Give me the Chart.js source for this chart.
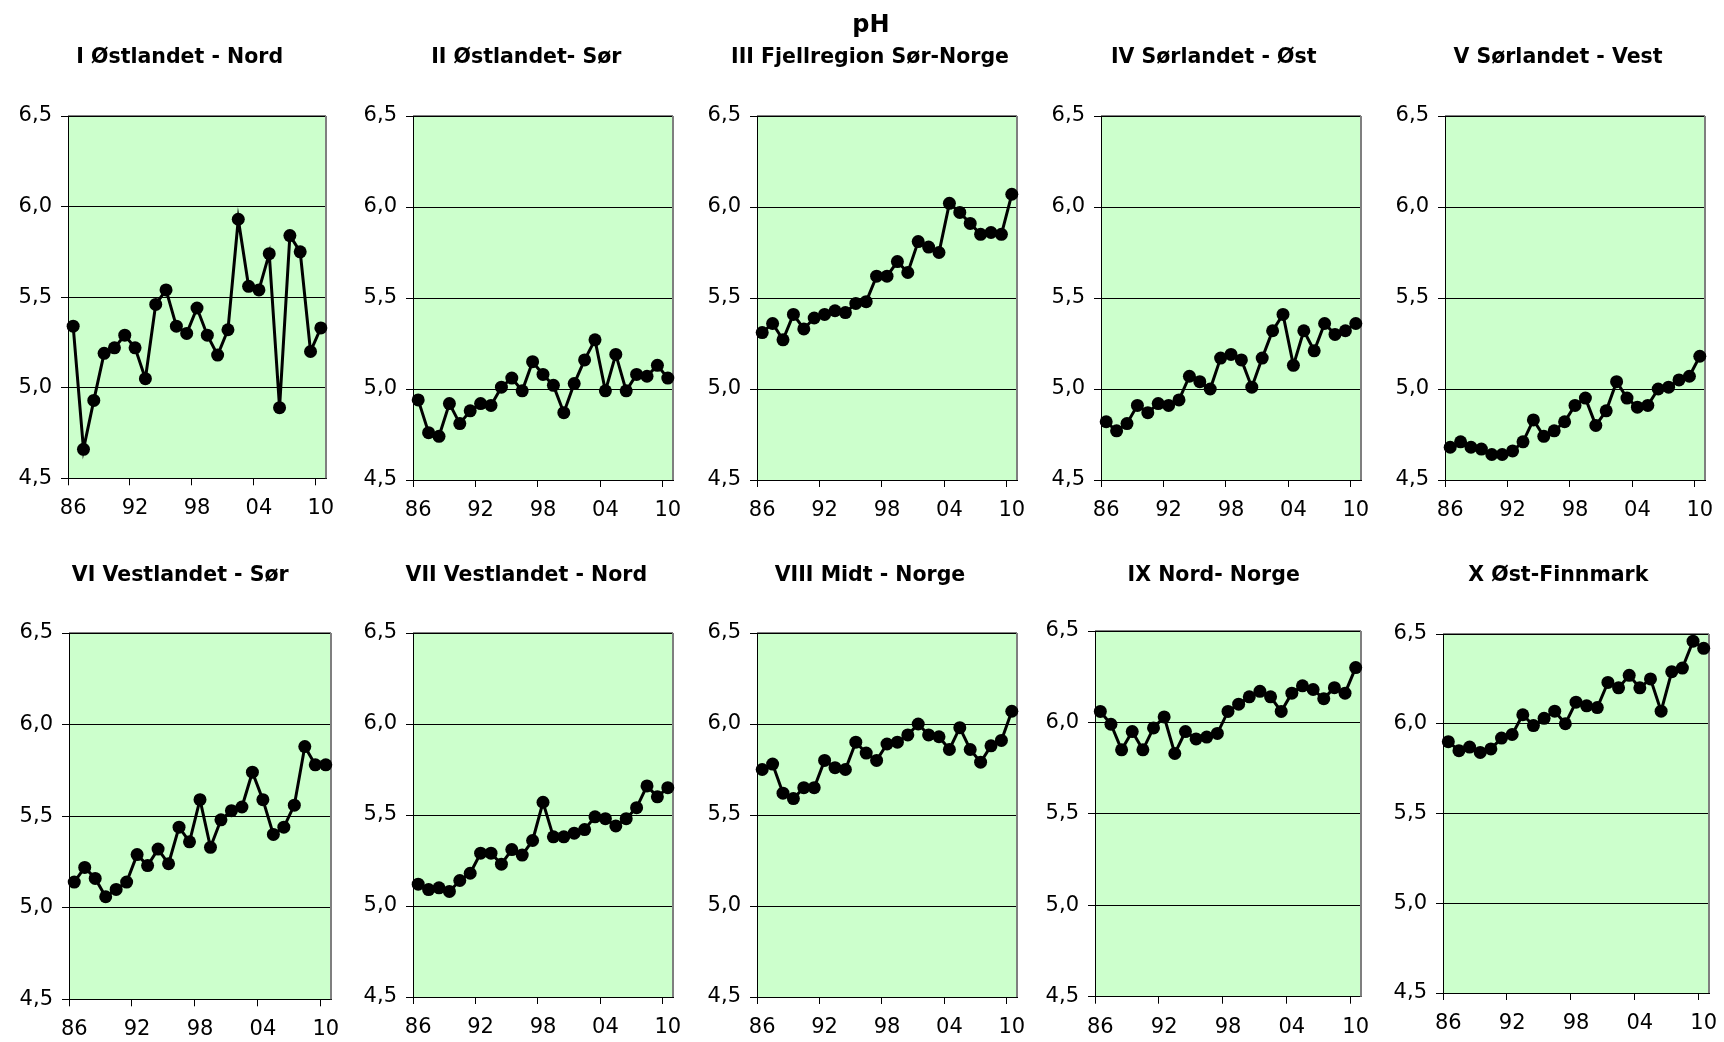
<!DOCTYPE html>
<html>
<head>
<meta charset="utf-8">
<title>pH</title>
<script src="https://cdn.jsdelivr.net/npm/chart.js@4/dist/chart.umd.min.js"></script>
<style>
  body { margin: 0; background: #fff; }
  #wrap { position: relative; width: 1724px; height: 1042px; overflow: hidden; }
  #wrap canvas { position: absolute; }
</style>
</head>
<body>
<div id="wrap"></div>
<script>
const mainTitle = 'pH';
const years = [1986, 1987, 1988, 1989, 1990, 1991, 1992, 1993, 1994, 1995, 1996, 1997, 1998,
  1999, 2000, 2001, 2002, 2003, 2004, 2005, 2006, 2007, 2008, 2009, 2010];
const yearTicks = ['86', '92', '98', '04', '10'];
const phTicks = [4.5, 5.0, 5.5, 6.0, 6.5];

const regions = [
  'I Østlandet - Nord', 'II Østlandet- Sør', 'III Fjellregion Sør-Norge', 'IV Sørlandet - Øst', 'V Sørlandet - Vest',
  'VI Vestlandet - Sør', 'VII Vestlandet - Nord', 'VIII Midt - Norge', 'IX Nord- Norge', 'X Øst-Finnmark'
];

const ph1 = [5.34, 4.66, 4.93, 5.19, 5.22, 5.29, 5.22, 5.05, 5.46, 5.54, 5.34, 5.30, 5.44, 5.29, 5.18, 5.32, 5.93, 5.56, 5.54, 5.74, 4.89, 5.84, 5.75, 5.20, 5.33];
const ph2 = [4.94, 4.76, 4.74, 4.92, 4.81, 4.88, 4.92, 4.91, 5.01, 5.06, 4.99, 5.15, 5.08, 5.02, 4.87, 5.03, 5.16, 5.27, 4.99, 5.19, 4.99, 5.08, 5.07, 5.13, 5.06];
const ph3 = [5.31, 5.36, 5.27, 5.41, 5.33, 5.39, 5.41, 5.43, 5.42, 5.47, 5.48, 5.62, 5.62, 5.70, 5.64, 5.81, 5.78, 5.75, 6.02, 5.97, 5.91, 5.85, 5.86, 5.85, 6.07];
const ph4 = [4.82, 4.77, 4.81, 4.91, 4.87, 4.92, 4.91, 4.94, 5.07, 5.04, 5.00, 5.17, 5.19, 5.16, 5.01, 5.17, 5.32, 5.41, 5.13, 5.32, 5.21, 5.36, 5.30, 5.32, 5.36];
const ph5 = [4.68, 4.71, 4.68, 4.67, 4.64, 4.64, 4.66, 4.71, 4.83, 4.74, 4.77, 4.82, 4.91, 4.95, 4.80, 4.88, 5.04, 4.95, 4.90, 4.91, 5.00, 5.01, 5.05, 5.07, 5.18];
const ph6 = [5.14, 5.22, 5.16, 5.06, 5.10, 5.14, 5.29, 5.23, 5.32, 5.24, 5.44, 5.36, 5.59, 5.33, 5.48, 5.53, 5.55, 5.74, 5.59, 5.40, 5.44, 5.56, 5.88, 5.78, 5.78];
const ph7 = [5.12, 5.09, 5.10, 5.08, 5.14, 5.18, 5.29, 5.29, 5.23, 5.31, 5.28, 5.36, 5.57, 5.38, 5.38, 5.40, 5.42, 5.49, 5.48, 5.44, 5.48, 5.54, 5.66, 5.60, 5.65];
const ph8 = [5.75, 5.78, 5.62, 5.59, 5.65, 5.65, 5.80, 5.76, 5.75, 5.90, 5.84, 5.80, 5.89, 5.90, 5.94, 6.00, 5.94, 5.93, 5.86, 5.98, 5.86, 5.79, 5.88, 5.91, 6.07];
const ph9 = [6.06, 5.99, 5.85, 5.95, 5.85, 5.97, 6.03, 5.83, 5.95, 5.91, 5.92, 5.94, 6.06, 6.10, 6.14, 6.17, 6.14, 6.06, 6.16, 6.20, 6.18, 6.13, 6.19, 6.16, 6.30];
const ph10 = [5.90, 5.85, 5.87, 5.84, 5.86, 5.92, 5.94, 6.05, 5.99, 6.03, 6.07, 6.00, 6.12, 6.10, 6.09, 6.23, 6.20, 6.27, 6.20, 6.25, 6.07, 6.29, 6.31, 6.46, 6.42];
const series = [ph1, ph2, ph3, ph4, ph5, ph6, ph7, ph8, ph9, ph10];

// plot area of each panel on the page: left, top, right, bottom
const boxes = [
  [68.3, 116, 326.7, 478.3], [412.7, 116, 672.7, 480], [757, 116, 1016.7, 480], [1101.3, 116, 1361, 480], [1445, 116, 1704.7, 480],
  [68.7, 632.7, 330.7, 999], [412.7, 632.7, 672.7, 996.7], [757, 632.7, 1016.7, 996.7], [1095.3, 631, 1361, 996.7], [1442.7, 634.3, 1709, 993.3]
];
const titleX = [180, 526, 870, 1214, 1558];
const titleY = [63, 581];

const AXIS_W = 68, PAD_TOP = 116, PAD_RIGHT = 24, AXIS_H = 48;
const FONT = '"DejaVu Sans", "Liberation Sans", sans-serif';

Chart.defaults.font.family = FONT;
Chart.defaults.font.size = 20;
Chart.defaults.color = '#000';

const plotFrame = {
  id: 'plotFrame',
  beforeDraw(chart) {
    const { ctx, chartArea: a } = chart;
    ctx.save();
    ctx.fillStyle = '#ccffcc';
    ctx.fillRect(a.left, a.top, a.right - a.left, a.bottom - a.top);
    ctx.restore();
  },
  beforeDatasetsDraw(chart) {
    const { ctx, chartArea: a } = chart;
    ctx.save();
    ctx.strokeStyle = '#000';
    ctx.lineWidth = 1;
    ctx.beginPath();
    ctx.moveTo(a.left, a.top);
    ctx.lineTo(a.right, a.top);
    ctx.stroke();
    ctx.strokeStyle = '#7f7f7f';
    ctx.lineWidth = 2;
    ctx.beginPath();
    ctx.moveTo(a.right, a.top);
    ctx.lineTo(a.right, a.bottom);
    ctx.stroke();
    ctx.restore();
  },
  afterDraw(chart, args, opts) {
    const ctx = chart.ctx;
    ctx.save();
    ctx.fillStyle = '#000';
    ctx.textAlign = 'center';
    ctx.textBaseline = 'alphabetic';
    (opts.texts || []).forEach(t => {
      ctx.font = 'bold ' + t.size + 'px ' + FONT;
      ctx.fillText(t.text, t.x, t.y);
    });
    ctx.restore();
  }
};

const wrap = document.getElementById('wrap');

regions.forEach((name, i) => {
  const [l, t, r, b] = boxes[i];
  const left = l - AXIS_W;
  const top = t - PAD_TOP;
  const width = Math.round(r - l + AXIS_W + PAD_RIGHT);
  const height = Math.round(b - t + PAD_TOP + AXIS_H);
  const xAxisH = height - PAD_TOP - (b - t);

  const canvas = document.createElement('canvas');
  canvas.width = width;
  canvas.height = height;
  canvas.style.left = left + 'px';
  canvas.style.top = top + 'px';
  canvas.style.width = width + 'px';
  canvas.style.height = height + 'px';
  wrap.appendChild(canvas);

  const row = Math.floor(i / 5), col = i % 5;
  const texts = [{ text: name, x: titleX[col] - left, y: titleY[row] - top, size: 20.5 }];
  if (i === 2) texts.push({ text: mainTitle, x: 871 - left, y: 32 - top, size: 24 });

  new Chart(canvas, {
    type: 'line',
    data: {
      labels: years,
      datasets: [{
        data: series[i],
        borderColor: '#000',
        borderWidth: 3,
        pointRadius: 6.5,
        pointBackgroundColor: '#000',
        pointBorderWidth: 0,
        tension: 0,
        clip: false
      }]
    },
    options: {
      responsive: false,
      animation: false,
      events: [],
      layout: { padding: { top: PAD_TOP, right: PAD_RIGHT, left: 0, bottom: 0 } },
      scales: {
        x: {
          type: 'category',
          offset: true,
          afterFit: s => { s.height = xAxisH; },
          grid: {
            offset: true,
            drawOnChartArea: false,
            tickLength: 7,
            color: c => (c.index % 6 === 0 ? '#000' : 'rgba(0,0,0,0)')
          },
          border: { display: true, color: '#000', width: 1 },
          ticks: {
            autoSkip: false,
            maxRotation: 0,
            padding: 11,
            font: { size: 21 },
            callback: (v, idx) => (idx % 6 === 0 ? yearTicks[idx / 6] : '')
          }
        },
        y: {
          min: phTicks[0],
          max: phTicks[phTicks.length - 1],
          afterFit: s => { s.width = AXIS_W; },
          afterBuildTicks: s => { s.ticks = phTicks.map(v => ({ value: v })); },
          grid: { color: '#000', lineWidth: 1, tickLength: 7 },
          border: { display: true, color: '#000', width: 1 },
          ticks: {
            padding: 9,
            font: { size: 21 },
            callback: v => v.toFixed(1).replace('.', ',')
          }
        }
      },
      plugins: {
        legend: { display: false },
        tooltip: { enabled: false },
        plotFrame: { texts: texts }
      }
    },
    plugins: [plotFrame]
  });
});
</script>
</body>
</html>
